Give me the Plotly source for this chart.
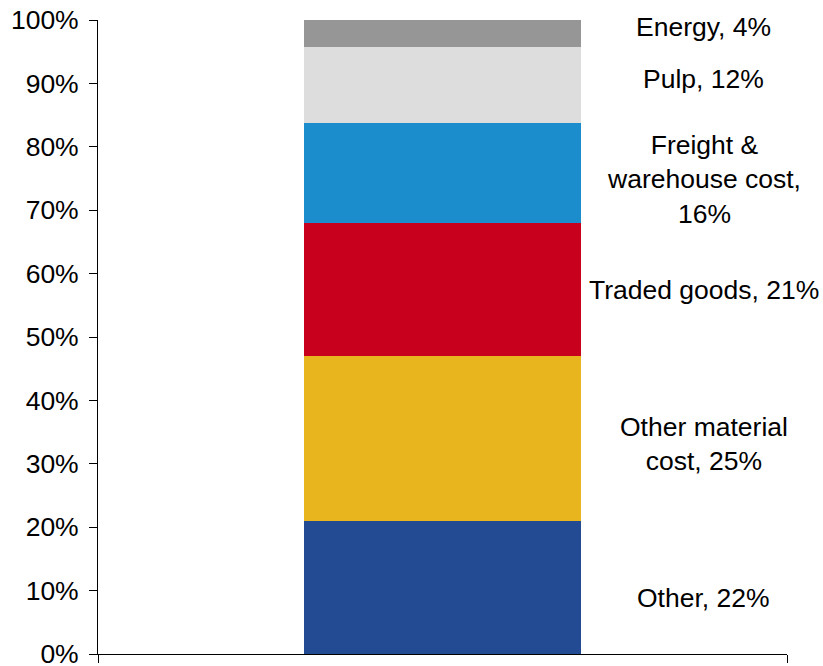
import plotly.graph_objects as go

categories = ["Other", "Other material cost", "Traded goods",
              "Freight & warehouse cost", "Pulp", "Energy"]
values = [21.0, 26.0, 21.0, 15.8, 12.0, 4.2]
labels = ["Other, 22%", "Other material<br>cost, 25%", "Traded goods, 21%",
          "Freight &<br>warehouse cost,<br>16%", "Pulp, 12%", "Energy, 4%"]
colors = ["#234B94", "#E8B51F", "#C8001E", "#1B8DCD", "#DDDDDD", "#969696"]
y_ticks = [0, 10, 20, 30, 40, 50, 60, 70, 80, 90, 100]

# label nudges in pixels (style only)
label_yshift = [-11, -6, -1, -7, 6, 6]

FONT = "Liberation Sans, Arial, sans-serif"

fig = go.Figure()
for name, v, c in zip(categories, values, colors):
    fig.add_trace(go.Bar(x=[0], y=[v], name=name, marker=dict(color=c, line=dict(width=0)),
                         width=0.402, hoverinfo="skip"))

cum = 0
for v, lab, ys in zip(values, labels, label_yshift):
    mid = cum + v / 2
    cum += v
    fig.add_annotation(x=0.379, y=mid, xref="x", yref="y", text=lab, showarrow=False,
                       xanchor="center", yanchor="middle", align="center", yshift=ys,
                       font=dict(family=FONT, size=26.5, color="#000000"))

fig.update_layout(
    width=823, height=666,
    barmode="stack",
    showlegend=False,
    hovermode=False,
    plot_bgcolor="white", paper_bgcolor="white",
    margin=dict(l=98, r=36, t=20, b=12, autoexpand=False),
    font=dict(family=FONT, size=26, color="#000000"),
)
fig.update_xaxes(range=[-0.5, 0.5], showline=True, linecolor="#000000", linewidth=1,
                 ticks="outside", ticklen=8, tickcolor="#000000",
                 tickvals=[-0.5, 0.5], showticklabels=False, showgrid=False, zeroline=False,
                 automargin=False)
fig.update_yaxes(range=[0, 100], tickvals=y_ticks, ticktext=[f"{t}%" for t in y_ticks],
                 showline=True, linecolor="#000000", linewidth=1,
                 ticks="outside", ticklen=8, tickcolor="#000000", ticklabelstandoff=5,
                 ticklabeloverflow="allow",
                 showgrid=False, zeroline=False, automargin=False,
                 tickfont=dict(family=FONT, size=26.5, color="#000000"))

fig.write_html("out.html",
               config={"displayModeBar": False, "staticPlot": True},
               post_script="document.body.style.margin='0';document.body.style.overflow='hidden';")
